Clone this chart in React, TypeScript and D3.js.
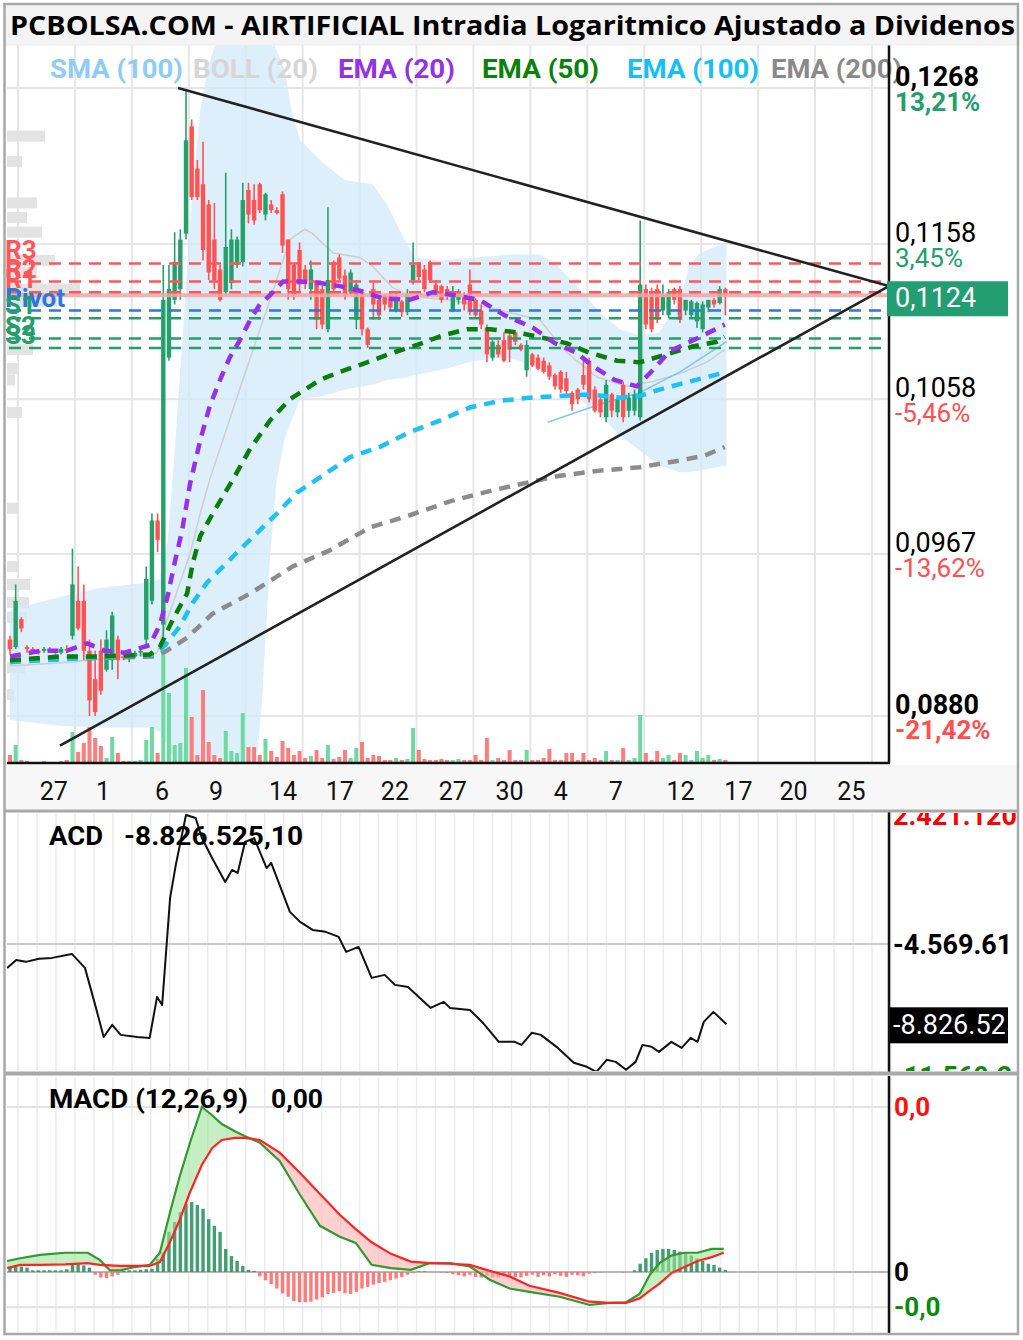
import React from 'react';
import * as d3 from 'd3';

// ---------- DATA ----------
// candles: [open, high, low, close]
const candles: number[][] = [
  [0.0920, 0.0922, 0.0912, 0.0915], [0.0916, 0.0950, 0.0915, 0.0941], [0.0931, 0.0932, 0.0924, 0.0926],
  [0.0916, 0.0917, 0.0913, 0.0915], [0.0915, 0.0916, 0.0913, 0.0914], [0.0914, 0.0915, 0.0912, 0.0913],
  [0.0914, 0.0916, 0.0913, 0.0915], [0.0915, 0.0916, 0.0913, 0.0914], [0.0914, 0.0915, 0.0912, 0.0913],
  [0.0913, 0.0916, 0.0912, 0.0915], [0.0915, 0.0917, 0.0913, 0.0914], [0.0922, 0.0970, 0.0920, 0.0950],
  [0.0941, 0.0960, 0.0925, 0.0926], [0.0941, 0.0950, 0.0909, 0.0914], [0.0914, 0.0920, 0.0880, 0.0888],
  [0.0899, 0.0914, 0.0880, 0.0882], [0.0914, 0.0920, 0.0891, 0.0893], [0.0904, 0.0925, 0.0903, 0.0920],
  [0.0909, 0.0935, 0.0904, 0.0933], [0.0920, 0.0922, 0.0899, 0.0909], [0.0911, 0.0913, 0.0909, 0.0910],
  [0.0910, 0.0912, 0.0908, 0.0911], [0.0911, 0.0914, 0.0910, 0.0913], [0.0913, 0.0915, 0.0911, 0.0914],
  [0.0920, 0.0960, 0.0917, 0.0953], [0.0941, 0.0990, 0.0939, 0.0986], [0.0986, 0.0990, 0.0968, 0.0975],
  [0.0928, 0.1144, 0.0920, 0.1121], [0.1084, 0.1144, 0.1082, 0.1128], [0.1121, 0.1166, 0.1118, 0.1146],
  [0.1128, 0.1168, 0.1121, 0.1161], [0.1165, 0.1267, 0.1161, 0.1230], [0.1240, 0.1245, 0.1188, 0.1190],
  [0.1210, 0.1216, 0.1188, 0.1190], [0.1199, 0.1229, 0.1147, 0.1154], [0.1185, 0.1188, 0.1134, 0.1139],
  [0.1161, 0.1186, 0.1128, 0.1134], [0.1141, 0.1144, 0.1120, 0.1121], [0.1126, 0.1207, 0.1124, 0.1156],
  [0.1132, 0.1168, 0.1128, 0.1161], [0.1144, 0.1163, 0.1142, 0.1161], [0.1146, 0.1200, 0.1143, 0.1188],
  [0.1195, 0.1200, 0.1172, 0.1178], [0.1188, 0.1199, 0.1171, 0.1174], [0.1199, 0.1200, 0.1179, 0.1181],
  [0.1178, 0.1193, 0.1174, 0.1192], [0.1185, 0.1188, 0.1179, 0.1181], [0.1181, 0.1183, 0.1178, 0.1179],
  [0.1192, 0.1194, 0.1152, 0.1157], [0.1161, 0.1161, 0.1121, 0.1128], [0.1144, 0.1145, 0.1121, 0.1124],
  [0.1154, 0.1159, 0.1126, 0.1131], [0.1141, 0.1144, 0.1128, 0.1134], [0.1128, 0.1147, 0.1121, 0.1141],
  [0.1132, 0.1134, 0.1102, 0.1108], [0.1128, 0.1130, 0.1102, 0.1105], [0.1102, 0.1183, 0.1100, 0.1134],
  [0.1146, 0.1147, 0.1124, 0.1128], [0.1149, 0.1151, 0.1133, 0.1135], [0.1137, 0.1141, 0.1121, 0.1124],
  [0.1126, 0.1141, 0.1124, 0.1139], [0.1108, 0.1134, 0.1102, 0.1131], [0.1126, 0.1128, 0.1098, 0.1102],
  [0.1102, 0.1103, 0.1090, 0.1092], [0.1128, 0.1132, 0.1108, 0.1118], [0.1121, 0.1122, 0.1108, 0.1111],
  [0.1124, 0.1124, 0.1114, 0.1118], [0.1124, 0.1126, 0.1114, 0.1116], [0.1114, 0.1126, 0.1113, 0.1121],
  [0.1120, 0.1121, 0.1110, 0.1113], [0.1113, 0.1128, 0.1111, 0.1124], [0.1134, 0.1159, 0.1131, 0.1144],
  [0.1145, 0.1146, 0.1134, 0.1136], [0.1141, 0.1144, 0.1126, 0.1128], [0.1146, 0.1147, 0.1132, 0.1134],
  [0.1131, 0.1134, 0.1123, 0.1124], [0.1130, 0.1131, 0.1119, 0.1121], [0.1128, 0.1130, 0.1121, 0.1123],
  [0.1114, 0.1130, 0.1113, 0.1126], [0.1121, 0.1128, 0.1118, 0.1124], [0.1124, 0.1126, 0.1114, 0.1118],
  [0.1131, 0.1141, 0.1111, 0.1113], [0.1121, 0.1122, 0.1110, 0.1111], [0.1114, 0.1118, 0.1102, 0.1105],
  [0.1103, 0.1105, 0.1081, 0.1086], [0.1084, 0.1095, 0.1082, 0.1094], [0.1092, 0.1095, 0.1084, 0.1086],
  [0.1095, 0.1100, 0.1081, 0.1082], [0.1098, 0.1100, 0.1081, 0.1089], [0.1100, 0.1100, 0.1092, 0.1094],
  [0.1092, 0.1093, 0.1088, 0.1089], [0.1076, 0.1095, 0.1072, 0.1092], [0.1086, 0.1087, 0.1078, 0.1079],
  [0.1084, 0.1086, 0.1076, 0.1077], [0.1082, 0.1084, 0.1074, 0.1075], [0.1079, 0.1081, 0.1070, 0.1072],
  [0.1073, 0.1074, 0.1064, 0.1066], [0.1075, 0.1076, 0.1062, 0.1064], [0.1071, 0.1075, 0.1061, 0.1063],
  [0.1062, 0.1063, 0.1051, 0.1055], [0.1064, 0.1065, 0.1055, 0.1058], [0.1073, 0.1084, 0.1064, 0.1067],
  [0.1082, 0.1084, 0.1056, 0.1058], [0.1064, 0.1066, 0.1050, 0.1051], [0.1058, 0.1059, 0.1047, 0.1050],
  [0.1047, 0.1070, 0.1044, 0.1067], [0.1061, 0.1062, 0.1047, 0.1051], [0.1050, 0.1059, 0.1047, 0.1058],
  [0.1067, 0.1069, 0.1044, 0.1047], [0.1051, 0.1062, 0.1047, 0.1059], [0.1051, 0.1064, 0.1048, 0.1061],
  [0.1047, 0.1174, 0.1045, 0.1131], [0.1128, 0.1131, 0.1102, 0.1105], [0.1126, 0.1129, 0.1100, 0.1102],
  [0.1128, 0.1131, 0.1106, 0.1108], [0.1114, 0.1131, 0.1111, 0.1124], [0.1111, 0.1128, 0.1109, 0.1126],
  [0.1128, 0.1129, 0.1118, 0.1121], [0.1128, 0.1130, 0.1106, 0.1108], [0.1114, 0.1121, 0.1111, 0.1121],
  [0.1111, 0.1121, 0.1109, 0.1120], [0.1107, 0.1120, 0.1103, 0.1119], [0.1102, 0.1120, 0.1100, 0.1118],
  [0.1116, 0.1121, 0.1113, 0.1121], [0.1121, 0.1122, 0.1116, 0.1118], [0.1119, 0.1130, 0.1118, 0.1128],
  [0.1128, 0.1129, 0.1111, 0.1124],
];

const volumes: number[] = [
  8, 18, 3, 2, 1, 1, 2, 1, 1, 2, 3, 31, 11, 20, 36, 25, 17, 5, 26, 10,
  2, 2, 2, 3, 23, 36, 10, 110, 70, 18, 20, 95, 46, 8, 73, 21, 8, 5, 32, 12,
  10, 50, 16, 16, 8, 24, 12, 6, 22, 15, 8, 12, 5, 7, 13, 5, 18, 4, 6, 13,
  5, 15, 21, 5, 8, 7, 3, 3, 5, 3, 4, 35, 13, 4, 3, 3, 4, 3, 3, 4,
  3, 3, 8, 3, 25, 3, 5, 3, 13, 3, 3, 13, 3, 3, 5, 14, 3, 3, 10, 10,
  3, 10, 3, 5, 3, 12, 3, 3, 15, 3, 5, 48, 10, 3, 12, 5, 8, 3, 10, 8,
  3, 12, 5, 8, 3, 4, 3,
];

const xTickIdx = [7.7, 16.4, 26.8, 36.3, 48.1, 58.1, 67.8, 78.0, 88.0, 97.0, 106.7, 118.1, 128.3, 138.0, 148.2];
const xTickLbl = ['27', '1', '6', '9', '14', '17', '22', '27', '30', '4', '7', '12', '17', '20', '25'];

const priceTicks = [0.1268, 0.1158, 0.1058, 0.0967, 0.0880];
const priceTickLbl = ['0,1268', '0,1158', '0,1058', '0,0967', '0,0880'];
const pctTickLbl = ['13,21%', '3,45%', '-5,46%', '-13,62%', '-21,42%'];
const lastPrice = 0.1124;
const lastPriceLbl = '0,1124';

const pivotNames = ['R3', 'R2', 'R1', 'Pivot', 'S1', 'S2', 'S3'];
const pivotVals = [0.1145, 0.1133, 0.1126, 0.1114, 0.1109, 0.1096, 0.1090];

// [candle index, price]
const ema20: number[][] = [
  [0, 0.0911], [5.3, 0.0914], [10, 0.0914], [13.6, 0.0918], [16.7, 0.0914], [20.2, 0.0913], [24.6, 0.0917],
  [26.4, 0.0928], [27.8, 0.0944], [29, 0.0962], [30.3, 0.0980], [31.7, 0.1007], [33.5, 0.1033], [35.2, 0.1054],
  [37, 0.1070], [38.7, 0.1084], [40.5, 0.1095], [42.3, 0.1108], [44, 0.1118], [45.8, 0.1124], [48.1, 0.1133],
  [51.1, 0.1133], [54.6, 0.1132], [58.1, 0.1130], [61.6, 0.1127], [65.7, 0.1122], [70.4, 0.1121], [74.5, 0.1126],
  [78.3, 0.1124], [82.7, 0.1121], [87.1, 0.1111], [92.1, 0.1103], [96, 0.1093], [99.8, 0.1087], [102.5, 0.1079],
  [106.5, 0.1070], [110.4, 0.1066], [113.2, 0.1076], [116.2, 0.1088], [121.5, 0.1097], [125.9, 0.1105],
];
const ema50: number[][] = [
  [0, 0.0909], [8.8, 0.0911], [15.8, 0.0911], [24.6, 0.0912], [26.4, 0.0916], [28.7, 0.0931], [31.2, 0.0945],
  [32.2, 0.0962], [33.5, 0.0977], [35.7, 0.0990], [39.3, 0.1010], [42.3, 0.1028], [45.8, 0.1045], [49.3, 0.1058],
  [54.6, 0.1070], [58.1, 0.1075], [62.9, 0.1081], [67.4, 0.1087], [71.7, 0.1092], [76.2, 0.1098], [80.5, 0.1102],
  [84.5, 0.1102], [89.3, 0.1100], [93.3, 0.1097], [98.1, 0.1093], [102.1, 0.1087], [106.9, 0.1082], [110.9, 0.1081],
  [115.7, 0.1086], [120.2, 0.1091], [124.5, 0.1094], [125.9, 0.1097],
];
const ema100: number[][] = [
  [0, 0.0908], [12.3, 0.0910], [25.5, 0.0912], [27.3, 0.0917], [29.9, 0.0927], [32.2, 0.0940], [34.7, 0.0951],
  [41, 0.0971], [47, 0.0990], [50.5, 0.1002], [54.6, 0.1011], [59.9, 0.1023], [65.1, 0.1029], [70.4, 0.1038],
  [75.7, 0.1045], [81, 0.1053], [86.3, 0.1057], [91.5, 0.1059], [96.8, 0.1060], [102.1, 0.1061], [107.4, 0.1059],
  [110.9, 0.1060], [114.4, 0.1064], [119.7, 0.1069], [124.1, 0.1073], [125.9, 0.1075],
];
const ema200: number[][] = [
  [0, 0.0909], [12.3, 0.0910], [25.5, 0.0911], [27.6, 0.0914], [31.2, 0.0921], [35.7, 0.0934], [42.3, 0.0945],
  [49.8, 0.0960], [56.3, 0.0969], [63.4, 0.0982], [70.4, 0.0989], [77.5, 0.0997], [84.5, 0.1003], [89.8, 0.1007],
  [96.8, 0.1012], [103.9, 0.1015], [110.9, 0.1017], [118, 0.1021], [122.4, 0.1024], [125.9, 0.1029],
];
const bollMid: number[][] = [
  [0, 0.0906], [10.6, 0.0908], [25.9, 0.0913], [27.6, 0.0930], [31.7, 0.0967], [33.5, 0.0990], [35.2, 0.1010],
  [41, 0.1070], [45.8, 0.1121], [49.3, 0.1161], [51.9, 0.1168], [53.3, 0.1165], [56.9, 0.1152], [61.6, 0.1149],
  [63.9, 0.1143], [67.4, 0.1129], [71, 0.1123], [77.5, 0.1121], [84.5, 0.1116], [93.3, 0.1108], [98.1, 0.1087],
  [103.3, 0.1072], [108.6, 0.1066], [113.2, 0.1069], [118, 0.1074], [122.7, 0.1081], [125.9, 0.1089],
];
// [candle index, upper, lower]
const bollBands: number[][] = [
  [0, 0.0936, 0.0878], [8.8, 0.0943, 0.0875], [15.8, 0.0948, 0.0874], [24.6, 0.0951, 0.0874], [26.4, 0.0953, 0.0872],
  [27.8, 0.0975, 0.0865], [29, 0.1027, 0.0857], [30.5, 0.1102, 0.0850], [32, 0.1188, 0.0845], [33.5, 0.1251, 0.0842],
  [34.7, 0.1281, 0.0842], [36.1, 0.1300, 0.0842], [40.5, 0.1319, 0.0842], [43.1, 0.1319, 0.0847], [44.4, 0.1315, 0.0888],
  [45.8, 0.1307, 0.0965], [47, 0.1296, 0.1010], [48.4, 0.1281, 0.1034], [49.6, 0.1251, 0.1045], [51.1, 0.1230, 0.1058],
  [55.1, 0.1214, 0.1060], [59, 0.1202, 0.1064], [63.9, 0.1199, 0.1067], [66.4, 0.1185, 0.1070], [69.2, 0.1163, 0.1071],
  [71.3, 0.1149, 0.1073], [75.7, 0.1147, 0.1076], [81.9, 0.1149, 0.1082], [88, 0.1151, 0.1084], [93.3, 0.1151, 0.1077],
  [96, 0.1145, 0.1073], [100.4, 0.1128, 0.1058], [103.9, 0.1113, 0.1048], [107.4, 0.1102, 0.1036], [110.9, 0.1098, 0.1027],
  [114.4, 0.1100, 0.1018], [118, 0.1121, 0.1014], [119.7, 0.1144, 0.1014], [121.5, 0.1152, 0.1015], [126.2, 0.1159, 0.1018],
];
const sma100: number[][] = [[94.7, 0.1044], [103.9, 0.1055], [110.9, 0.1062], [118, 0.1075], [126.2, 0.1094]];

// trend lines: [[idx, price], [idx, price]]
const trendUpper: number[][] = [[29.6, 0.1268], [154.8, 0.1130]];
const trendLower: number[][] = [[8.8, 0.0865], [154.8, 0.1130]];

// left volume profile: [price, size]
const volProfile: number[][] = [
  [0.1233, 38], [0.1215, 15], [0.1186, 30], [0.1176, 20], [0.1166, 35], [0.1147, 48], [0.1139, 30], [0.1128, 73],
  [0.1120, 50], [0.1089, 26], [0.1077, 12], [0.1070, 8], [0.1050, 15], [0.0993, 12], [0.0960, 12], [0.0950, 23],
  [0.0940, 22], [0.0932, 20], [0.0917, 10], [0.0905, 18], [0.0891, 7],
];

// ACD (millions): [candle index, value]
const acdSeries: number[][] = [
  [-0.5, -5.84], [1.1, -5.42], [2.8, -5.52], [5.1, -5.36], [7.4, -5.31], [10.9, -5.10], [13.2, -5.84], [15, -7.80],
  [16.5, -9.50], [18, -8.86], [19.5, -9.39], [22.4, -9.50], [24.6, -9.55], [25.9, -7.38], [26.8, -7.80], [28.2, -2.13],
  [29.2, -0.39], [31, 2.26], [32.7, 2.10], [33.8, 1.04], [35.6, -0.02], [37.9, -1.29], [39.1, -0.65], [40.1, -0.81],
  [41.4, 0.83], [43, 1.04], [45.2, -0.55], [46, -0.28], [47.5, -1.45], [49.3, -2.87], [51.1, -3.40], [53.3, -3.83],
  [55.6, -3.93], [57.9, -4.20], [59.2, -4.99], [61.4, -4.73], [63.7, -6.37], [66, -6.21], [67.8, -6.74], [70.1, -6.85],
  [74.1, -7.96], [76.4, -7.64], [77.5, -7.96], [81, -8.07], [83.3, -8.75], [86.1, -9.76], [88.9, -9.76], [90.1, -9.92],
  [91.9, -9.28], [93.5, -9.39], [96.5, -10.08], [99.3, -10.87], [101.6, -11.08], [103.3, -11.35], [105.1, -10.71],
  [106.7, -10.82], [108.5, -11.24], [110.2, -10.82], [111.4, -9.92], [113, -10.02], [114.3, -10.29], [116.5, -9.76],
  [118.3, -10.08], [119.9, -9.55], [121.1, -9.76], [122.2, -8.70], [123.9, -8.17], [126.2, -8.83],
];
const acdLastLbl = '-8.826.525';
const acdAxisVals = [2.42112, -4.56961, -11.5692];
const acdAxisLbl = ['2.421.120', '-4.569.61', '-11.569.2'];

// MACD (units of 1e-4)
const macdIdx = [-0.5, 1.8, 5.3, 9.7, 13.7, 15.8, 17.6, 19.4, 22, 24.6, 26.4, 28.2, 29.9, 31.7, 33.8, 35.6, 37.3, 39.6, 41.4,
  44, 47.5, 51.1, 54.6, 58.1, 60.9, 63.7, 67.1, 70.6, 73.9, 77.5, 81, 84.5, 88, 91.5, 96.8, 102.1, 105.6, 108.5, 110.9,
  112.7, 114.4, 116.5, 118.8, 121.1, 123.6, 125.7];
const macdLine = [2.0, 2.5, 3.1, 3.5, 3.5, 2.2, 0.3, 0.3, 0.9, 1.3, 3.5, 10.9, 17.4, 23.5, 30.0, 28.5, 26.9, 25.6, 24.7,
  23.5, 20.2, 14.0, 8.4, 6.4, 5.3, 1.3, 0.7, 0.4, 1.6, 1.6, 1.0, -1.4, -3.0, -3.6, -4.5, -6.0, -5.6, -5.5, -4.0,
  -0.5, 1.6, 3.0, 3.5, 3.5, 4.2, 4.2];
const signalLine = [0.7, 1.3, 1.3, 1.4, 1.6, 1.3, 1.2, 1.1, 1.1, 1.1, 1.8, 5.5, 9.5, 14.5, 19.5, 22.5, 24.0, 24.4, 24.4,
  24.0, 21.7, 18.0, 14.2, 10.4, 7.8, 5.4, 3.3, 1.9, 1.6, 1.5, 1.3, 0.2, -0.8, -2.5, -3.8, -5.4, -5.6, -5.6, -4.8,
  -3.4, -2.1, -0.2, 0.9, 2.0, 2.7, 3.5];
const macdHist = [
  1.0, 1.2, 1.0, 0.8, 0.3, 0.3, 0.3, 0.3, 0.3, 0.3, 0.5, 1.6, 1.5, 1.2, 0.8, -0.5, -1.0, -1.1, -0.8, -0.5,
  0.2, 0.3, 0.3, 0.4, 0.5, 0.6, 2.4, 3.5, 7.3, 9.1, 10.9, 12.4, 12.7, 12.2, 11.5, 9.6, 8.4, 7.3, 4.2, 2.9,
  2.0, 1.1, 0.4, 0.2, -0.8, -1.5, -2.2, -3.0, -3.9, -4.5, -5.3, -5.5, -5.5, -5.4, -5.0, -4.6, -4.0, -3.8, -3.5, -3.9,
  -4.0, -3.6, -3.0, -2.7, -2.3, -2.0, -1.8, -1.5, -1.2, -0.9, -0.5, -0.2, 0.1, 0.1, 0.0, 0.0, -0.1, -0.2, -0.4, -0.6,
  -0.8, -0.5, -0.9, -1.0, -0.7, -0.9, -1.0, -0.8, -0.6, -0.9, -1.0, -0.7, -0.5, -0.9, -0.6, -0.8, -0.4, -0.7, -0.9, -0.5,
  -0.6, -0.8, -0.3, -0.2, -0.1, 0.0, 0.0, 0.0, -0.1, 0.0, 0.3, 1.5, 2.5, 3.5, 4.0, 4.2, 4.2, 4.0, 3.7, 3.5,
  3.0, 2.5, 2.0, 1.5, 1.3, 0.8, 0.4,
];
const macdAxisVals = [30, 0, -6.4];
const macdAxisLbl = ['0,0', '0', '-0,0'];
const macdAxisCol = ['#ff1010', '#000', '#0a8a0a'];

const legendNames = ['SMA (100)', 'BOLL (20)', 'EMA (20)', 'EMA (50)', 'EMA (100)', 'EMA (200)'];
const legendColors = ['#8ecdf8', '#d6d6d6', '#9233e6', '#0a820a', '#17bff5', '#8a8a8a'];

// ---------- STYLE ----------
const GREEN = '#26a06b';
const RED = '#ff5252';
const FONT = "Roboto, 'Noto Sans', sans-serif";

export default function App() {
  const PL = 7, PR = 889, PT = 45, PB = 763;
  const x = d3.scaleLinear().domain([0, 155]).range([10, 890]);
  const y = d3.scaleLog().domain([0.088, 0.1268]).range([716, 88]);
  const yVol = d3.scaleLinear().domain([0, 110]).range([PB, PB - 110]);
  const yAcd = d3.scaleLinear().domain([-11.5692, 2.42112]).range([1076, 812]);
  const yM = d3.scaleLinear().domain([-6.4, 30]).range([1307.2, 1107]);

  const line = d3.line<number[]>().x(d => x(d[0])).y(d => y(d[1]));
  const bandArea = d3.area<number[]>().x(d => x(d[0])).y0(d => y(d[2])).y1(d => y(d[1]));
  const acdLine = d3.line<number[]>().x(d => x(d[0])).y(d => yAcd(d[1]));
  const mPts = macdIdx.map((v, i) => [v, macdLine[i], signalLine[i]]);
  const mLine = d3.line<number[]>().x(d => x(d[0])).y(d => yM(d[1]));
  const sLine = d3.line<number[]>().x(d => x(d[0])).y(d => yM(d[2]));
  const upFill = d3.area<number[]>().x(d => x(d[0])).y0(d => yM(d[2])).y1(d => yM(Math.max(d[1], d[2])));
  const dnFill = d3.area<number[]>().x(d => x(d[0])).y0(d => yM(d[2])).y1(d => yM(Math.min(d[1], d[2])));

  const mainGridX = d3.range(16).map(k => 18 + k * 56.93);
  const subGridX = d3.range(47).map(k => 18 + k * 18.98);

  const emaDefs = [
    { d: ema200, c: '#8c8c8c' },
    { d: ema100, c: '#1ec0f8' },
    { d: ema50, c: '#0b7d0b' },
    { d: ema20, c: '#9630ea' },
  ];
  const pivotCol = (n: string) => (n[0] === 'R' ? '#ff5757' : n[0] === 'P' ? '#2878e0' : '#23a06a');
  const legendX = [50, 193, 338, 482, 627, 771];
  const legendW = [133, 125, 117, 117, 132, 131];

  return (
    <div style={{ position: 'absolute', left: 0, top: 0, width: 1023, height: 1340, background: '#fff' }}>
      <svg width={1023} height={1340} style={{ display: 'block' }} fontFamily={FONT}>
        <defs>
          <clipPath id="plot"><rect x={PL} y={PT} width={PR - PL} height={PB - PT} /></clipPath>
          <clipPath id="acd"><rect x={PL} y={813} width={PR - PL} height={258} /></clipPath>
          <clipPath id="acdR"><rect x={890} y={813} width={126} height={258} /></clipPath>
          <clipPath id="macd"><rect x={PL} y={1076} width={PR - PL} height={257} /></clipPath>
        </defs>

        {/* backgrounds */}
        <rect x={0} y={0} width={1023} height={1340} fill="#fff" />
        <rect x={5} y={5} width={1012} height={40} fill="#f4f4f4" />
        <rect x={6} y={765} width={1011} height={44} fill="#f7f7f7" />

        {/* title */}
        <text x={10} y={35} fontFamily="'Open Sans', 'Noto Sans', sans-serif" fontWeight={700} fontSize={27}
          textLength={1005} lengthAdjust="spacingAndGlyphs" fill="#000">
          PCBOLSA.COM - AIRTIFICIAL Intradia Logaritmico Ajustado a Dividenos
        </text>

        {/* main grid */}
        {mainGridX.map((gx, k) => (
          <line key={'gx' + k} x1={gx} x2={gx} y1={PT} y2={PB} stroke="#e6e6e6" strokeWidth={2} />
        ))}
        {priceTicks.map((p, k) => (
          <line key={'gy' + k} x1={PL} x2={PR} y1={y(p)} y2={y(p)} stroke="#e6e6e6" strokeWidth={2} />
        ))}

        <g clipPath="url(#plot)">
          {/* volume profile */}
          {volProfile.map((v, k) => (
            <rect key={'vp' + k} x={PL} y={y(v[0]) - 5.5} width={v[1]} height={11} fill="#e3e3e3" />
          ))}
          {/* bollinger */}
          <path d={bandArea(bollBands) || ''} fill="#d3eafb" opacity={0.75} />
          <path d={line(bollMid) || ''} fill="none" stroke="#cfcfcf" strokeWidth={1.6} />
          <path d={line(sma100) || ''} fill="none" stroke="#7fc8f8" strokeWidth={1.6} />

          {/* volume bars */}
          {volumes.map((v, i) => {
            const c = candles[i];
            const up = c[3] >= c[0];
            return (
              <rect key={'v' + i} x={x(i) - 2} y={yVol(v)} width={4} height={PB - yVol(v)}
                fill={up ? '#6fd9a2' : '#ff7d7d'} />
            );
          })}

          {/* candles */}
          {candles.map((c, i) => {
            const [o, h, l, cl] = c;
            const up = cl >= o;
            const col = up ? GREEN : RED;
            const cx = x(i);
            const yt = y(Math.max(o, cl));
            const yb = y(Math.min(o, cl));
            return (
              <g key={'c' + i}>
                <line x1={cx} x2={cx} y1={y(h)} y2={y(l)} stroke={col} strokeWidth={1.6} />
                <rect x={cx - 2.2} y={yt} width={4.4} height={Math.max(1.6, yb - yt)} fill={col} />
              </g>
            );
          })}

          {/* pivot lines */}
          <line x1={PL} x2={PR} y1={y(lastPrice)} y2={y(lastPrice)} stroke="#f3a6a6" strokeWidth={4} opacity={0.85} />
          {pivotVals.map((p, k) => (
            <line key={'pv' + k} x1={PL + 2} x2={PR} y1={y(p)} y2={y(p)} stroke={pivotCol(pivotNames[k])}
              strokeWidth={2.5} strokeDasharray="12 8" />
          ))}

          {/* EMAs */}
          {emaDefs.map((e, k) => (
            <path key={'e' + k} d={line(e.d) || ''} fill="none" stroke={e.c} strokeWidth={4.5} strokeDasharray="11 8" />
          ))}

          {/* trend lines */}
          <path d={line(trendUpper) || ''} stroke="#222" strokeWidth={2.6} fill="none" />
          <path d={line(trendLower) || ''} stroke="#222" strokeWidth={2.6} fill="none" />
        </g>

        {/* pivot labels */}
        {pivotVals.map((p, k) => (
          <text key={'pl' + k} x={5} y={y(p) - 4} fontSize={26} fontWeight={700} fill={pivotCol(pivotNames[k])}>
            {pivotNames[k]}
          </text>
        ))}

        {/* legend */}
        {legendNames.map((n, k) => (
          <text key={'lg' + k} x={legendX[k]} y={78} fontSize={26} fontWeight={700} fill={legendColors[k]}
            textLength={legendW[k]} lengthAdjust="spacingAndGlyphs">{n}</text>
        ))}

        {/* axes lines main */}
        <line x1={PL} x2={PR + 1} y1={PB} y2={PB} stroke="#111" strokeWidth={2.5} />
        <line x1={PR} x2={PR} y1={PT} y2={PB} stroke="#111" strokeWidth={2.5} />

        {/* right price axis */}
        {priceTicks.map((p, k) => {
          const bold = k === 0 || k === priceTicks.length - 1;
          const pctCol = pctTickLbl[k][0] === '-' ? '#ff4f4f' : '#22a06b';
          return (
            <g key={'pt' + k}>
              <text x={895} y={y(p) - 2} fontSize={27} fontWeight={bold ? 700 : 400} fill="#000">{priceTickLbl[k]}</text>
              <text x={895} y={y(p) + 23} fontSize={26} fontWeight={bold ? 700 : 400} fill={pctCol}>{pctTickLbl[k]}</text>
            </g>
          );
        })}
        <rect x={887} y={y(lastPrice) - 14} width={121} height={35} fill="#239d72" />
        <text x={895} y={y(lastPrice) + 12} fontSize={27} fill="#fff">{lastPriceLbl}</text>

        {/* x axis labels */}
        {xTickIdx.map((t, k) => (
          <text key={'xt' + k} x={x(t)} y={800} fontSize={25} textAnchor="middle" fill="#111">{xTickLbl[k]}</text>
        ))}

        {/* ---------- ACD panel ---------- */}
        {subGridX.map((gx, k) => (
          <line key={'ag' + k} x1={gx} x2={gx} y1={813} y2={1071} stroke="#ececec" strokeWidth={1.5} />
        ))}
        <line x1={PL} x2={PR} y1={yAcd(acdAxisVals[1])} y2={yAcd(acdAxisVals[1])} stroke="#c9c9c9" strokeWidth={2} />
        <g clipPath="url(#acd)">
          <path d={acdLine(acdSeries) || ''} fill="none" stroke="#111" strokeWidth={2} strokeLinejoin="round" />
        </g>
        <text x={49} y={845} fontSize={25} fontWeight={700} textLength={54} lengthAdjust="spacingAndGlyphs">ACD</text>
        <text x={124} y={845} fontSize={25} fontWeight={700} textLength={179} lengthAdjust="spacingAndGlyphs">-8.826.525,10</text>
        <g clipPath="url(#acdR)">
          <text x={893} y={yAcd(acdAxisVals[0]) + 13} fontSize={27} fontWeight={700} fill="#ff0000">{acdAxisLbl[0]}</text>
          <text x={893} y={yAcd(acdAxisVals[1]) + 10} fontSize={27} fontWeight={700} fill="#000">{acdAxisLbl[1]}</text>
          <text x={893} y={yAcd(acdAxisVals[2]) + 10} fontSize={27} fontWeight={700} fill="#0a8a0a">{acdAxisLbl[2]}</text>
          <rect x={888} y={yAcd(acdSeries[acdSeries.length - 1][1]) - 17} width={120} height={36} fill="#000" />
          <text x={893} y={yAcd(acdSeries[acdSeries.length - 1][1]) + 10} fontSize={27} fill="#fff">{acdLastLbl}</text>
        </g>
        <line x1={PR} x2={PR} y1={812} y2={1072} stroke="#111" strokeWidth={2.5} />

        {/* ---------- MACD panel ---------- */}
        {subGridX.map((gx, k) => (
          <line key={'mg' + k} x1={gx} x2={gx} y1={1077} y2={1332} stroke="#ececec" strokeWidth={1.5} />
        ))}
        <line x1={PL} x2={PR} y1={yM(30)} y2={yM(30)} stroke="#e2e2e2" strokeWidth={2} />
        <line x1={PL} x2={PR} y1={yM(-6.4)} y2={yM(-6.4)} stroke="#e2e2e2" strokeWidth={2} />
        <line x1={PL} x2={PR} y1={yM(0)} y2={yM(0)} stroke="#b8b8b8" strokeWidth={2} />
        <g clipPath="url(#macd)">
          {macdHist.map((v, i) => (
            <rect key={'h' + i} x={x(i) - 1.7} y={Math.min(yM(v), yM(0))} width={3.4}
              height={Math.abs(yM(v) - yM(0))} fill={v >= 0 ? '#2f9463' : '#ff6b6b'} opacity={0.9} />
          ))}
          <path d={upFill(mPts) || ''} fill="#9fe59a" opacity={0.6} />
          <path d={dnFill(mPts) || ''} fill="#ffb0b0" opacity={0.6} />
          <path d={mLine(mPts) || ''} fill="none" stroke="#2f9a2f" strokeWidth={2.2} />
          <path d={sLine(mPts) || ''} fill="none" stroke="#ff2424" strokeWidth={2.2} />
        </g>
        <text x={49} y={1108} fontSize={25} fontWeight={700} textLength={199} lengthAdjust="spacingAndGlyphs">MACD (12,26,9)</text>
        <text x={271} y={1108} fontSize={25} fontWeight={700} textLength={52} lengthAdjust="spacingAndGlyphs">0,00</text>
        {macdAxisVals.map((v, k) => (
          <text key={'ma' + k} x={894} y={yM(v) + 9} fontSize={26} fontWeight={700} fill={macdAxisCol[k]}>{macdAxisLbl[k]}</text>
        ))}
        <line x1={PR} x2={PR} y1={1076} y2={1333} stroke="#111" strokeWidth={2.5} />

        {/* separators and frame */}
        <line x1={5} x2={1018} y1={45} y2={45} stroke="#ececec" strokeWidth={1} />
        <line x1={5} x2={1018} y1={811} y2={811} stroke="#a8a8a8" strokeWidth={3} />
        <line x1={5} x2={1018} y1={1073.5} y2={1073.5} stroke="#a8a8a8" strokeWidth={4} />
        <rect x={4.5} y={4} width={1013.5} height={1330} fill="none" stroke="#a8a8a8" strokeWidth={2.5} />
      </svg>
    </div>
  );
}
